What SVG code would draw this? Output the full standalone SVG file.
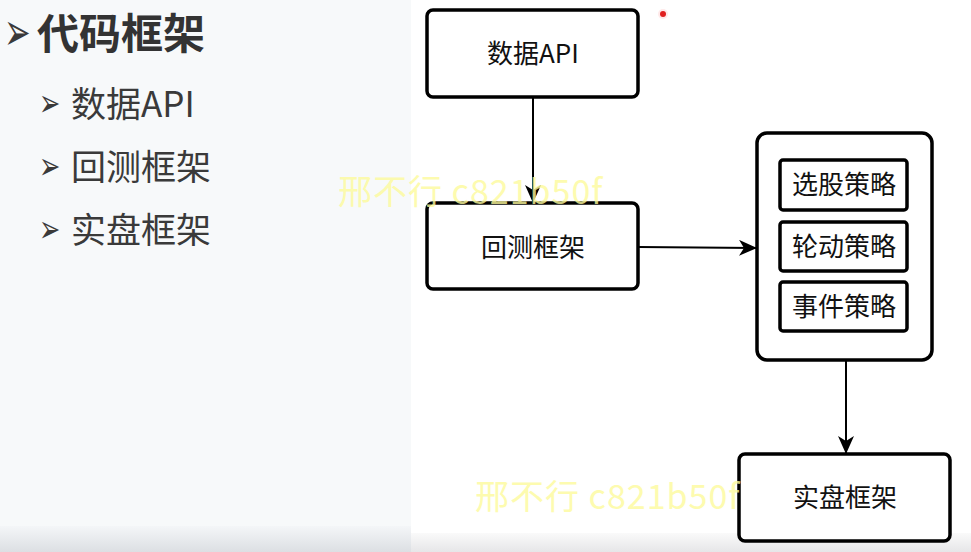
<svg xmlns="http://www.w3.org/2000/svg" width="971" height="552" viewBox="0 0 971 552">
<style>
.bullet{font-family:"DejaVu Sans",sans-serif;fill:#3a3a3a}
.title{font-family:"Noto Sans CJK SC",sans-serif;font-weight:bold;font-size:42px;fill:#333}
.item{font-family:"Noto Sans CJK SC",sans-serif;font-size:35px;fill:#3a3a3a}
.box{fill:#fff;stroke:#000;stroke-width:3.5}
.lbl{font-family:"Noto Sans CJK SC",sans-serif;font-size:26px;fill:#111;text-anchor:middle}
.wm{font-family:"Noto Sans CJK SC",sans-serif;font-size:34px;letter-spacing:1px;fill:#fdfb9c;opacity:0.8}
.conn{stroke:#000;stroke-width:2;fill:none}
</style>
<defs>
<linearGradient id="bandL" x1="0" y1="0" x2="0" y2="1"><stop offset="0" stop-color="#f4f6f8"/><stop offset="1" stop-color="#dcdfe3"/></linearGradient>
<linearGradient id="bandR" x1="0" y1="0" x2="0" y2="1"><stop offset="0" stop-color="#fafafa"/><stop offset="1" stop-color="#e6e6e8"/></linearGradient>
<marker id="ah" markerWidth="18" markerHeight="16" refX="17" refY="8" orient="auto" markerUnits="userSpaceOnUse">
<path d="M0,0 L18,8 L0,16 L5,8 Z" fill="#000"/>
</marker>
</defs>
<rect x="0" y="0" width="971" height="552" fill="#fff"/>
<rect x="0" y="0" width="411" height="552" fill="#f7f9fa"/>
<rect x="0" y="526" width="411" height="26" fill="url(#bandL)"/>
<rect x="411" y="533" width="560" height="19" fill="url(#bandR)"/>

<g id="outline">
<text class="bullet" transform="translate(4,50) scale(0.6,1)" font-size="53">➢</text>
<text class="title" x="37" y="49">代码框架</text>
<text class="bullet" transform="translate(39,116) scale(0.67,1)" font-size="38">➢</text>
<text class="item" x="71" y="117">数据API</text>
<text class="bullet" transform="translate(39,179) scale(0.67,1)" font-size="38">➢</text>
<text class="item" x="71" y="180">回测框架</text>
<text class="bullet" transform="translate(39,242) scale(0.67,1)" font-size="38">➢</text>
<text class="item" x="71" y="243">实盘框架</text>
</g>

<g id="connectors">
<line class="conn" x1="533" y1="97" x2="533" y2="202" marker-end="url(#ah)"/>
<line class="conn" x1="638" y1="247" x2="756" y2="248" marker-end="url(#ah)"/>
<line class="conn" x1="846" y1="360" x2="846" y2="453" marker-end="url(#ah)"/>
</g>

<g id="node-data-api">
<rect class="box" x="427" y="10" width="211" height="87" rx="6"/>
<text class="lbl" x="533" y="63">数据API</text>
</g>
<g id="node-backtest">
<rect class="box" x="427" y="203" width="211" height="86" rx="6"/>
<text class="lbl" x="533" y="257">回测框架</text>
</g>
<g id="node-strategies">
<rect class="box" x="757" y="133" width="175" height="227" rx="10"/>
</g>
<g id="node-select">
<rect class="box" x="780" y="160" width="127" height="50" rx="3"/>
<text class="lbl" x="844" y="194">选股策略</text>
</g>
<g id="node-rotate">
<rect class="box" x="780" y="222" width="127" height="49" rx="3"/>
<text class="lbl" x="844" y="256">轮动策略</text>
</g>
<g id="node-event">
<rect class="box" x="780" y="282" width="127" height="49" rx="3"/>
<text class="lbl" x="844" y="316">事件策略</text>
</g>
<g id="node-live">
<rect class="box" x="739" y="454" width="211" height="87" rx="6"/>
<text class="lbl" x="845" y="507">实盘框架</text>
</g>

<circle cx="663" cy="14" r="5" fill="#ffe0e0" opacity="0.7"/>
<circle cx="663" cy="14" r="3" fill="#e02020"/>

<text class="wm" x="338" y="204">邢不行 c821b50f</text>
<text class="wm" x="475" y="509">邢不行 c821b50f</text>
</svg>
